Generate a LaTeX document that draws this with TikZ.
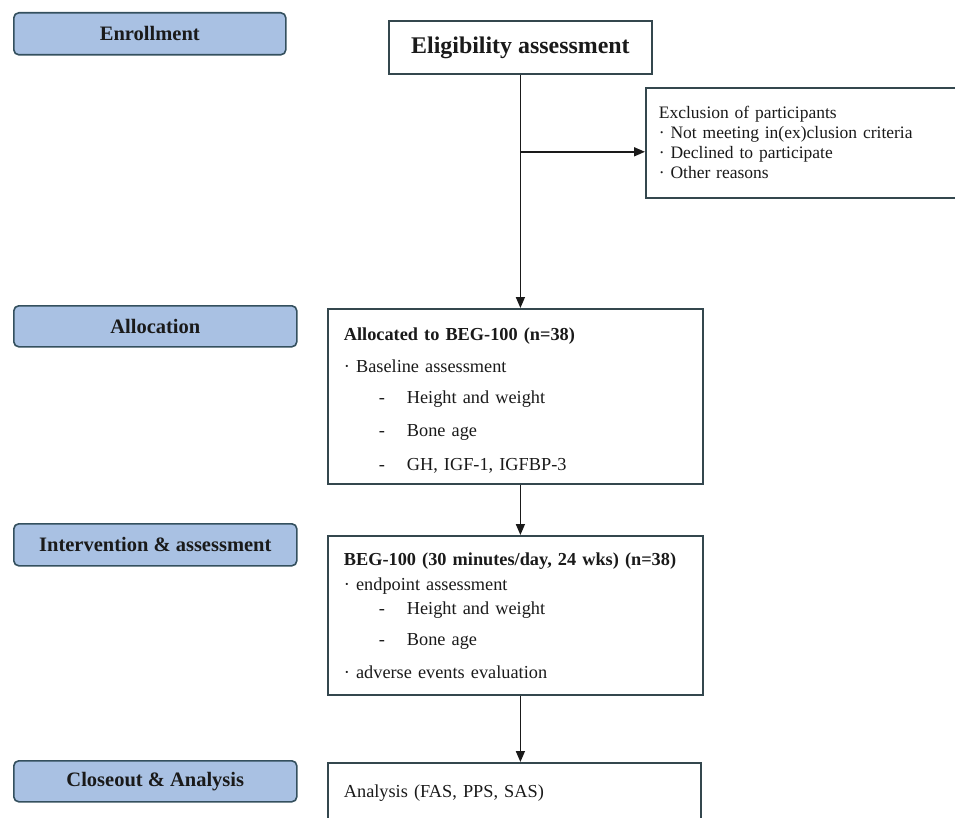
\documentclass[tikz,border=0pt]{standalone}
\usepackage{fontspec}
\setmainfont{Liberation Serif}
\usetikzlibrary{arrows.meta,positioning,calc}
\definecolor{StageBlue}{HTML}{A9C1E3}
\definecolor{StageLine}{HTML}{34505E}
\definecolor{BoxLine}{HTML}{34474E}
\definecolor{Ink}{HTML}{1A1A1A}
\tikzset{
  stagebox/.style={draw=StageLine,line width=1.6pt,rounded corners=5pt,fill=StageBlue,
              minimum width=283pt,minimum height=41pt,anchor=north west,
              font=\fontsize{20.5}{24}\selectfont\bfseries,text=Ink},
  flowbox/.style={draw=BoxLine,line width=1.8pt,fill=white,align=left,anchor=north west,
              text width=343pt,inner xsep=16pt,font=\fontsize{18.3}{22}\selectfont,text=Ink},
  flow/.style={-{Triangle[length=11pt,width=9pt]},line width=1.6pt,draw=Ink}
}
\newcommand{\dashline}[1]{\hspace*{35pt}\makebox[28pt][l]{-}#1}

\begin{document}
\begin{tikzpicture}[x=1pt,y=-1pt]
  \useasboundingbox (0,0) rectangle (955,818);
  \clip (0,0) rectangle (955,818);
  % stage labels
  \node[stagebox,minimum width=272pt,minimum height=42pt] (enroll) at (13,12) {Enrollment};
  \node[stagebox] (alloc) at (13,305) {Allocation};
  \node[stagebox,minimum height=42pt] (interv) at (13,523) {Intervention \& assessment};
  \node[stagebox] (closeout) at (13,760) {Closeout \& Analysis};
  % flow boxes
  \node[flowbox,align=center,text width=,minimum width=263pt,minimum height=53pt,
        font=\fontsize{23.9}{28}\selectfont\bfseries] (elig) at (388,20) {Eligibility assessment};
  \node[flowbox,text width=314pt,inner xsep=13pt,minimum height=110pt,
        font=\fontsize{17.5}{20}\selectfont] (excl) at (645,87)
    {Exclusion of participants\\
     · Not meeting in(ex)clusion criteria\\
     · Declined to participate\\
     · Other reasons};
  \node[flowbox,minimum height=175pt] (allocbox) at (327,308)
    {\rule{0pt}{22pt}\textbf{Allocated to BEG-100 (n=38)}\\[10pt]
     · Baseline assessment\\[9pt]
     \dashline{Height and weight}\\[11pt]
     \dashline{Bone age}\\[12pt]
     \dashline{GH, IGF-1, IGFBP-3}};
  \node[flowbox,minimum height=159pt] (begbox) at (327,535)
    {\textbf{BEG-100 (30 minutes/day, 24 wks) (n=38)}\\[3pt]
     · endpoint assessment\\[2pt]
     \dashline{Height and weight}\\[9pt]
     \dashline{Bone age}\\[11pt]
     · adverse events evaluation};
  \node[flowbox,text width=341pt,minimum height=60pt] (analysis) at (327,762)
    {Analysis (FAS, PPS, SAS)};
  % connectors
  \path (elig.south) ++(0,77) coordinate (branch);
  \draw[flow] (elig.south) -- (elig.south |- allocbox.north);
  \draw[flow] (branch) -- (branch -| excl.west);
  \draw[flow] (elig.south |- allocbox.south) -- (elig.south |- begbox.north);
  \draw[flow] (elig.south |- begbox.south) -- (elig.south |- analysis.north);
\end{tikzpicture}
\end{document}
